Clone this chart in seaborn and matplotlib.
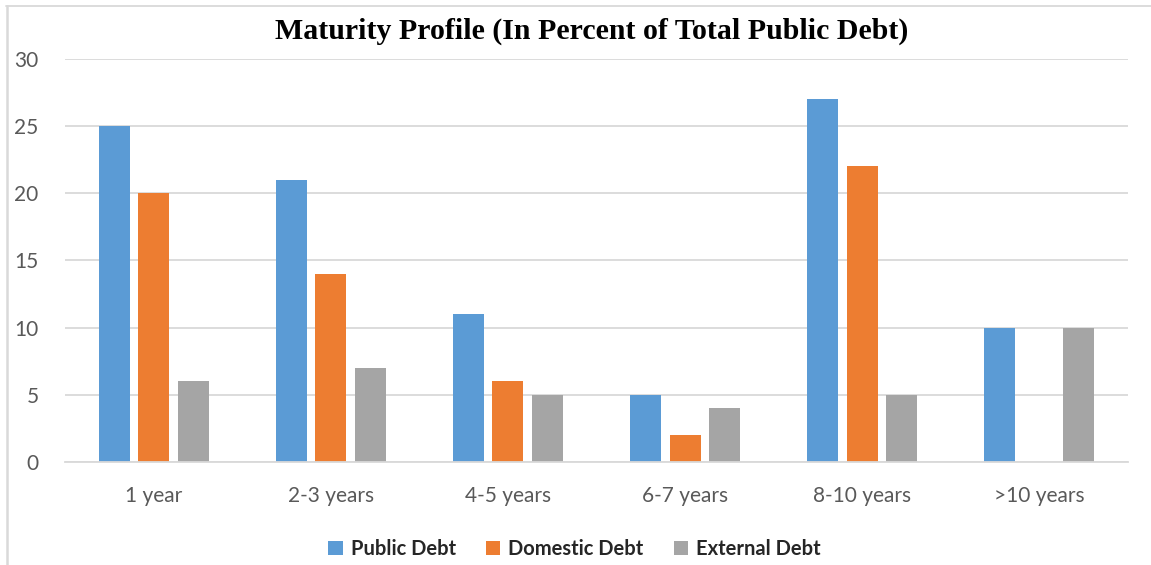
import matplotlib
matplotlib.use("Agg")
import matplotlib.pyplot as plt
import seaborn as sns
import pandas as pd
from matplotlib.lines import Line2D
from matplotlib.patches import Patch

# Maturity buckets and shares of total public debt (%)
categories = ["1 year", "2-3 years", "4-5 years", "6-7 years", "8-10 years", ">10 years"]
public_debt = [25, 21, 11, 5, 27, 10]
domestic_debt = [20, 14, 6, 2, 22, 0]
external_debt = [6, 7, 5, 4, 5, 10]
series_names = ["Public Debt", "Domestic Debt", "External Debt"]
colors = ["#5B9BD5", "#ED7D31", "#A5A5A5"]
y_ticks = [0, 5, 10, 15, 20, 25, 30]

df = pd.DataFrame({
    "Maturity": categories * 3,
    "Share": public_debt + domestic_debt + external_debt,
    "Series": [s for s in series_names for _ in categories],
})

sns.set_theme(style="white")
plt.rcParams["font.family"] = ["Lato", "DejaVu Sans"]

fig = plt.figure(figsize=(11.51, 5.65), dpi=100)
ax = fig.add_axes([0.0565, 0.1823, 0.9235, 0.7133])

sns.barplot(data=df, x="Maturity", y="Share", hue="Series", order=categories,
            hue_order=series_names, palette=colors, width=0.67, gap=0.215,
            saturation=1, ax=ax, legend=False, errorbar=None, linewidth=0)

ax.set_xlim(-0.5, len(categories) - 0.5)
ax.set_ylim(0, 30)
ax.set_yticks(y_ticks)
ax.set_yticklabels([str(t) for t in y_ticks])
ax.yaxis.grid(True, color="#D9D9D9", linewidth=1.3)
ax.set_axisbelow(True)
for side in ["top", "right", "left"]:
    ax.spines[side].set_visible(False)
ax.spines["bottom"].set_color("#D9D9D9")
ax.spines["bottom"].set_linewidth(1.3)
ax.tick_params(axis="both", length=0, labelsize=15, colors="#595959")
ax.tick_params(axis="y", pad=19)
ax.tick_params(axis="x", pad=17)
ax.set_xlabel("")
ax.set_ylabel("")

fig.text(0.514, 0.945, "Maturity Profile (In Percent of Total Public Debt)",
         ha="center", va="center", fontsize=21.5, fontweight="bold",
         family="Liberation Serif", color="black")

handles = [Patch(facecolor=c, edgecolor="none") for c in colors]
fig.legend(handles, series_names, loc="center", bbox_to_anchor=(0.499, 0.028),
           ncol=3, frameon=False, prop={"weight": "bold", "size": 14.5},
           handlelength=0.7, handleheight=0.7, handletextpad=0.4,
           columnspacing=1.5)

# chart frame edges
fig.add_artist(Line2D([0.0065, 0.0065], [0, 0.99], transform=fig.transFigure,
                      color="#D9D9D9", linewidth=1.8))
fig.add_artist(Line2D([0.0055, 1.0], [0.99, 0.99], transform=fig.transFigure,
                      color="#D9D9D9", linewidth=1.3))

fig.savefig("out.png", dpi=100)
